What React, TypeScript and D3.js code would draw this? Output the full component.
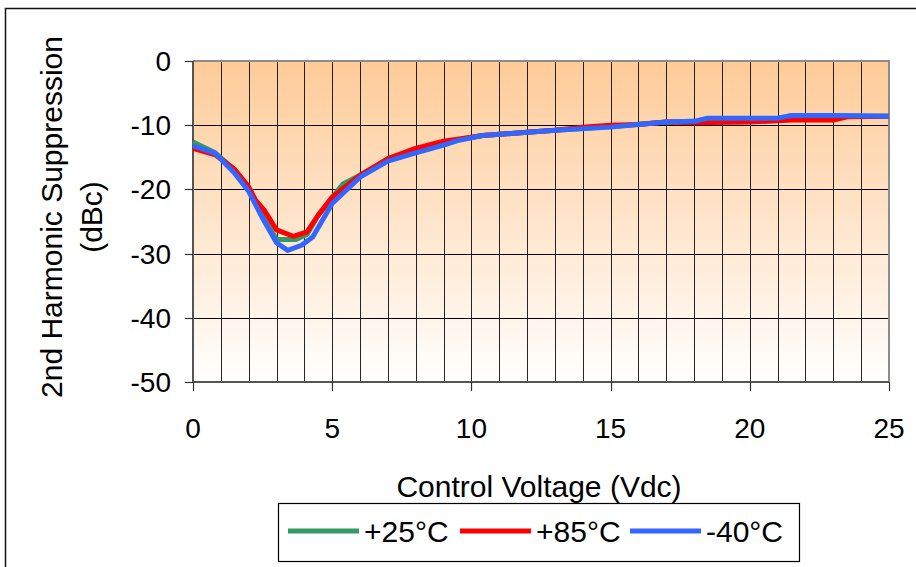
import { useEffect, useRef } from 'react'
import * as d3 from 'd3'

const WIDTH = 916
const HEIGHT = 567

const X_TICKS = [0, 5, 10, 15, 20, 25]
const Y_TICKS = [0, -10, -20, -30, -40, -50]

// +25°C
const green_x = [0, 0.8, 1.5, 2, 2.5, 3, 3.7, 4.1, 4.5, 5.4, 6, 7, 8, 9, 9.5, 10.4, 12, 15, 17, 18, 18.5, 21, 21.5, 25]
const green_y = [-12.6, -14.3, -17.0, -20.0, -24.2, -27.8, -27.8, -27.0, -24.0, -19.1, -17.8, -15.3, -14.0, -12.9, -12.3, -11.6, -11.1, -10.2, -9.5, -9.4, -9.0, -9.0, -8.5, -8.6]

// +85°C
const red_x = [0, 0.8, 1.5, 2, 2.25, 2.55, 3, 3.6, 4.1, 4.45, 5, 6, 7, 8, 9, 9.5, 10.4, 12, 13, 14, 15, 16, 17, 18, 20, 21, 21.5, 23, 23.5, 25]
const red_y = [-13.6, -14.6, -16.9, -19.6, -21.7, -23.2, -26.3, -27.3, -26.6, -24.3, -21.2, -17.8, -15.2, -13.6, -12.5, -12.2, -11.6, -11.1, -10.8, -10.3, -10.0, -9.9, -9.5, -9.6, -9.5, -9.3, -9.2, -9.2, -8.7, -8.6]

// -40°C
const blue_x = [0, 0.8, 1.5, 2, 2.5, 3, 3.4, 3.9, 4.3, 5, 6, 7, 8, 9, 9.5, 10.4, 12, 13, 15, 16, 17, 18, 18.5, 21, 21.5, 23, 25]
const blue_y = [-13.2, -14.4, -17.5, -20.3, -24.5, -28.3, -29.5, -28.7, -27.4, -22.2, -18.1, -15.6, -14.3, -13.1, -12.4, -11.6, -11.1, -10.8, -10.3, -9.9, -9.5, -9.4, -8.9, -8.9, -8.5, -8.5, -8.6]

const SERIES_NAMES = ['+25°C', '+85°C', '-40°C']
const SERIES_COLORS = ['#339966', '#ff0000', '#3366ff']
const SERIES_X = [green_x, red_x, blue_x]
const SERIES_Y = [green_y, red_y, blue_y]

const X_LABEL = 'Control Voltage (Vdc)'
const Y_LABEL = ['2nd Harmonic Suppression', '(dBc)']

const FONT = 'Arial, "Liberation Sans", sans-serif'

export default function App() {
  const svgRef = useRef<SVGSVGElement | null>(null)

  useEffect(() => {
    if (!svgRef.current) {
      return
    }

    const svg = d3.select(svgRef.current)
    svg.selectAll('*').remove()

    const left = 193
    const right = 889
    const top = 61
    const bottom = 382

    const x = d3.scaleLinear().domain([0, 25]).range([left, right])
    const y = d3.scaleLinear().domain([-50, 0]).range([bottom, top])

    svg.append('rect').attr('width', WIDTH).attr('height', HEIGHT).attr('fill', '#ffffff')

    // outer chart frame (cropped on right/bottom)
    svg
      .append('path')
      .attr('d', `M5.5,${HEIGHT + 2} V8.5 H${WIDTH + 2}`)
      .attr('fill', 'none')
      .attr('stroke', '#111')
      .attr('stroke-width', 1.5)

    const defs = svg.append('defs')
    const grad = defs
      .append('linearGradient')
      .attr('id', 'plot-bg')
      .attr('x1', 0)
      .attr('y1', 0)
      .attr('x2', 0)
      .attr('y2', 1)
    grad.append('stop').attr('offset', '0%').attr('stop-color', '#fecb98')
    grad.append('stop').attr('offset', '100%').attr('stop-color', '#ffffff')

    svg
      .append('rect')
      .attr('x', left)
      .attr('y', top)
      .attr('width', right - left)
      .attr('height', bottom - top)
      .attr('fill', 'url(#plot-bg)')

    // gridlines
    const grid = svg.append('g').attr('shape-rendering', 'crispEdges')
    grid
      .selectAll('line.vgrid')
      .data(d3.range(1, 25))
      .enter()
      .append('line')
      .attr('class', 'vgrid')
      .attr('x1', (d: number) => Math.round(x(d)) + 0.5)
      .attr('x2', (d: number) => Math.round(x(d)) + 0.5)
      .attr('y1', top)
      .attr('y2', bottom)
      .attr('stroke', '#000')
      .attr('stroke-opacity', 0.85)
      .attr('stroke-width', 1)

    grid
      .selectAll('line.hgrid')
      .data(Y_TICKS.filter((d) => d !== 0 && d !== -50))
      .enter()
      .append('line')
      .attr('class', 'hgrid')
      .attr('x1', left)
      .attr('x2', right)
      .attr('y1', (d: number) => Math.round(y(d)) + 0.5)
      .attr('y2', (d: number) => Math.round(y(d)) + 0.5)
      .attr('stroke', '#000')
      .attr('stroke-width', 1)

    // plot border top/right
    svg
      .append('path')
      .attr('d', `M${left},${top} H${right} V${bottom}`)
      .attr('fill', 'none')
      .attr('stroke', '#8c8c8c')
      .attr('stroke-width', 2)

    // axes
    svg
      .append('path')
      .attr('d', `M${left},${top} V${bottom} H${right}`)
      .attr('fill', 'none')
      .attr('stroke', '#555')
      .attr('stroke-width', 2)

    svg
      .selectAll('line.ytick')
      .data(Y_TICKS)
      .enter()
      .append('line')
      .attr('class', 'ytick')
      .attr('x1', left - 8)
      .attr('x2', left)
      .attr('y1', (d: number) => Math.round(y(d)) + 0.5)
      .attr('y2', (d: number) => Math.round(y(d)) + 0.5)
      .attr('stroke', '#333')
      .attr('stroke-width', 1.2)

    svg
      .selectAll('line.xtick')
      .data(X_TICKS)
      .enter()
      .append('line')
      .attr('class', 'xtick')
      .attr('x1', (d: number) => Math.round(x(d)) + 0.5)
      .attr('x2', (d: number) => Math.round(x(d)) + 0.5)
      .attr('y1', bottom)
      .attr('y2', bottom + 9)
      .attr('stroke', '#333')
      .attr('stroke-width', 1.2)

    svg
      .selectAll('text.ylabel')
      .data(Y_TICKS)
      .enter()
      .append('text')
      .attr('class', 'ylabel')
      .attr('x', 171)
      .attr('y', (d: number) => y(d))
      .attr('dy', '0.36em')
      .attr('text-anchor', 'end')
      .attr('font-family', FONT)
      .attr('font-size', 28)
      .attr('fill', '#000')
      .text((d: number) => String(d))

    svg
      .selectAll('text.xlabel')
      .data(X_TICKS)
      .enter()
      .append('text')
      .attr('class', 'xlabel')
      .attr('x', (d: number) => x(d))
      .attr('y', 438)
      .attr('text-anchor', 'middle')
      .attr('font-family', FONT)
      .attr('font-size', 28)
      .attr('fill', '#000')
      .text((d: number) => String(d))

    // axis titles
    svg
      .append('text')
      .attr('x', 539)
      .attr('y', 497)
      .attr('text-anchor', 'middle')
      .attr('font-family', FONT)
      .attr('font-size', 30)
      .attr('fill', '#000')
      .text(X_LABEL)

    svg
      .selectAll('text.ytitle')
      .data(Y_LABEL)
      .enter()
      .append('text')
      .attr('class', 'ytitle')
      .attr('transform', (_: string, i: number) => `translate(${62 + i * 40}, 217) rotate(-90)`)
      .attr('text-anchor', 'middle')
      .attr('font-family', FONT)
      .attr('font-size', 30)
      .attr('fill', '#000')
      .text((d: string) => d)

    // series
    const line = d3
      .line<[number, number]>()
      .x((d) => x(d[0]))
      .y((d) => y(d[1]))

    SERIES_NAMES.forEach((_, i) => {
      const points: [number, number][] = SERIES_X[i].map((v, j) => [v, SERIES_Y[i][j]])
      svg
        .append('path')
        .datum(points)
        .attr('d', line)
        .attr('fill', 'none')
        .attr('stroke', SERIES_COLORS[i])
        .attr('stroke-width', 5)
        .attr('stroke-linejoin', 'round')
    })

    // legend
    const legend = svg.append('g')
    legend
      .append('rect')
      .attr('x', 278.5)
      .attr('y', 503.5)
      .attr('width', 521)
      .attr('height', 58)
      .attr('fill', '#fff')
      .attr('stroke', '#000')
      .attr('stroke-width', 1.2)

    const legendX = [288, 460, 630]
    const items = legend
      .selectAll('g.item')
      .data(SERIES_NAMES)
      .enter()
      .append('g')
      .attr('class', 'item')
      .attr('transform', (_: string, i: number) => `translate(${legendX[i]}, 531)`)

    items
      .append('line')
      .attr('x1', 0)
      .attr('x2', 71)
      .attr('y1', 0)
      .attr('y2', 0)
      .attr('stroke', (_: string, i: number) => SERIES_COLORS[i])
      .attr('stroke-width', 5)

    items
      .append('text')
      .attr('x', 76)
      .attr('y', 11)
      .attr('font-family', FONT)
      .attr('font-size', 30)
      .attr('fill', '#000')
      .text((d: string) => d)
  }, [])

  return (
    <div style={{ position: 'absolute', left: 0, top: 0 }}>
      <svg ref={svgRef} width={WIDTH} height={HEIGHT} style={{ display: 'block' }} />
    </div>
  )
}
